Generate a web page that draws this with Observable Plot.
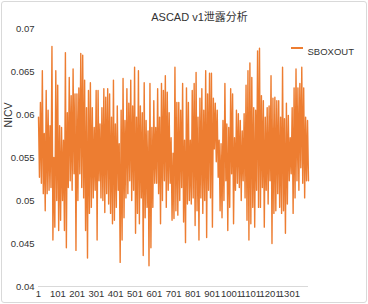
<!DOCTYPE html>
<html>
<head>
<meta charset="utf-8">
<script src="https://cdn.jsdelivr.net/npm/d3@7"></script>
<script src="https://cdn.jsdelivr.net/npm/@observablehq/plot@0.6"></script>
<style>
  html, body { margin: 0; padding: 0; background: #fff; }
  #wrap { position: relative; width: 368px; height: 304px; overflow: hidden;
          font-family: "Liberation Sans", "Noto Sans CJK SC", Arial, sans-serif; }
  #border { position: absolute; left: 1px; top: 1px; width: 364px; height: 300px;
            border: 1px solid #d9d9d9; border-radius: 3px; pointer-events: none; }
  #legLine { position: absolute; left: 291px; top: 47px; width: 12px; height: 0;
             border-top: 2px solid #ED7D31; }
</style>
</head>
<body>
<div id="wrap"><div id="border"></div><div id="legLine"></div></div>
<script>
const chartTitle = "ASCAD v1泄露分析";
const yLabel = "NICV";
const seriesName = "SBOXOUT";
const sampleCount = 1400;
const xTicks = [1, 101, 201, 301, 401, 501, 601, 701, 801, 901, 1001, 1101, 1201, 1301];
const yTicks = [0.04, 0.045, 0.05, 0.055, 0.06, 0.065, 0.07];

// NICV trace in order (alternating local highs / lows)
const nicvPart1 = [0.0597,0.0527, 0.0614,0.0520, 0.0651,0.0508, 0.0578,0.0488, 0.0628,0.0508, 0.0605,0.0512, 0.0587,0.0515, 0.0679,0.0454, 0.0550,0.0469, 0.0651,0.0500, 0.0634,0.0465, 0.0587,0.0477, 0.0585,0.0500, 0.0570,0.0465, 0.0672,0.0445, 0.0602,0.0515, 0.0643,0.0523, 0.0622,0.0512, 0.0653,0.0531, 0.0624,0.0442];
const nicvPart2 = [0.0624,0.0500, 0.0631,0.0531, 0.0671,0.0515, 0.0669,0.0503, 0.0640,0.0465, 0.0608,0.0433, 0.0628,0.0485, 0.0637,0.0492, 0.0608,0.0503, 0.0585,0.0512, 0.0628,0.0454, 0.0628,0.0523, 0.0589,0.0503, 0.0608,0.0500, 0.0630,0.0486, 0.0620,0.0508, 0.0630,0.0496, 0.0624,0.0485, 0.0597,0.0473, 0.0640,0.0477, 0.0589,0.0492, 0.0610,0.0512, 0.0566,0.0428, 0.0605,0.0454];
const nicvPart3 = [0.0642,0.0480, 0.0593,0.0503, 0.0630,0.0508, 0.0613,0.0523, 0.0640,0.0500, 0.0610,0.0512, 0.0655,0.0462, 0.0597,0.0485, 0.0651,0.0473, 0.0610,0.0503, 0.0602,0.0436, 0.0637,0.0480, 0.0593,0.0492, 0.0581,0.0424, 0.0636,0.0445, 0.0585,0.0492, 0.0616,0.0520, 0.0585,0.0520, 0.0630,0.0508, 0.0597,0.0473, 0.0636,0.0500, 0.0628,0.0523, 0.0645,0.0492];
const nicvPart4 = [0.0626,0.0512, 0.0602,0.0520, 0.0573,0.0477, 0.0555,0.0479, 0.0655,0.0488, 0.0614,0.0483, 0.0614,0.0500, 0.0605,0.0515, 0.0636,0.0475, 0.0570,0.0451, 0.0631,0.0496, 0.0614,0.0500, 0.0570,0.0496, 0.0628,0.0503, 0.0636,0.0471, 0.0649,0.0488, 0.0597,0.0454, 0.0619,0.0503, 0.0630,0.0485, 0.0605,0.0500, 0.0651,0.0457, 0.0624,0.0512, 0.0648,0.0503];
const nicvPart5 = [0.0648,0.0469, 0.0619,0.0560, 0.0613,0.0545, 0.0605,0.0527, 0.0570,0.0488, 0.0566,0.0480, 0.0593,0.0500, 0.0636,0.0523, 0.0589,0.0465, 0.0585,0.0492, 0.0630,0.0531, 0.0624,0.0473, 0.0573,0.0512, 0.0605,0.0520, 0.0601,0.0515, 0.0593,0.0500, 0.0581,0.0523, 0.0601,0.0503, 0.0634,0.0477, 0.0651,0.0454, 0.0660,0.0473, 0.0643,0.0492, 0.0608,0.0469, 0.0605,0.0512, 0.0674,0.0492];
const nicvPart6 = [0.0677,0.0492, 0.0622,0.0515, 0.0616,0.0469, 0.0597,0.0512, 0.0608,0.0496, 0.0610,0.0523, 0.0645,0.0450, 0.0619,0.0485, 0.0620,0.0488, 0.0616,0.0508, 0.0616,0.0492, 0.0597,0.0485, 0.0655,0.0488, 0.0595,0.0462, 0.0613,0.0496, 0.0599,0.0523, 0.0573,0.0531, 0.0608,0.0485, 0.0631,0.0503, 0.0653,0.0523, 0.0631,0.0512, 0.0636,0.0538, 0.0655,0.0520, 0.0631,0.0503, 0.0597,0.0523, 0.0593,0.0523];

const nicv = [].concat(nicvPart1, nicvPart2, nicvPart3, nicvPart4, nicvPart5, nicvPart6);
const n = nicv.length;
const data = nicv.map((v, i) => ({sample: 1 + i * (sampleCount - 1) / (n - 1), value: v}));

const font = '"Liberation Sans", "Noto Sans CJK SC", Arial, sans-serif';
const fmtY = d => String(+d.toFixed(3));

const chart = Plot.plot({
  width: 368,
  height: 304,
  marginLeft: 38,
  marginRight: 60,
  marginTop: 28,
  marginBottom: 18,
  style: {fontFamily: font, fontSize: "9.5px", color: "#333", background: "transparent", overflow: "visible"},
  x: {domain: [1, sampleCount], ticks: xTicks, tickFormat: d => String(d), tickSize: 0, tickPadding: 4, label: null},
  y: {domain: [0.04, 0.07], ticks: yTicks, tickFormat: fmtY, tickSize: 0, tickPadding: 4, label: null},
  marks: [
    Plot.ruleY([0.04], {stroke: "#d9d9d9", strokeWidth: 1}),
    Plot.lineY(data, {x: "sample", y: "value", stroke: "#ED7D31", strokeWidth: 1.4}),
    Plot.text([chartTitle], {frameAnchor: "top", dx: 26, dy: -15, fontSize: 11, fill: "#333"}),
    Plot.text([yLabel], {frameAnchor: "left", rotate: -90, dx: -30, dy: -30, fontSize: 10.5, fill: "#333"}),
    Plot.text([seriesName], {frameAnchor: "top-right", dx: -1, dy: 20, textAnchor: "start", fontSize: 9.5, fill: "#333"})
  ]
});
chart.style.position = "absolute";
chart.style.left = "0";
chart.style.top = "0";
document.getElementById("wrap").prepend(chart);
</script>
</body>
</html>
